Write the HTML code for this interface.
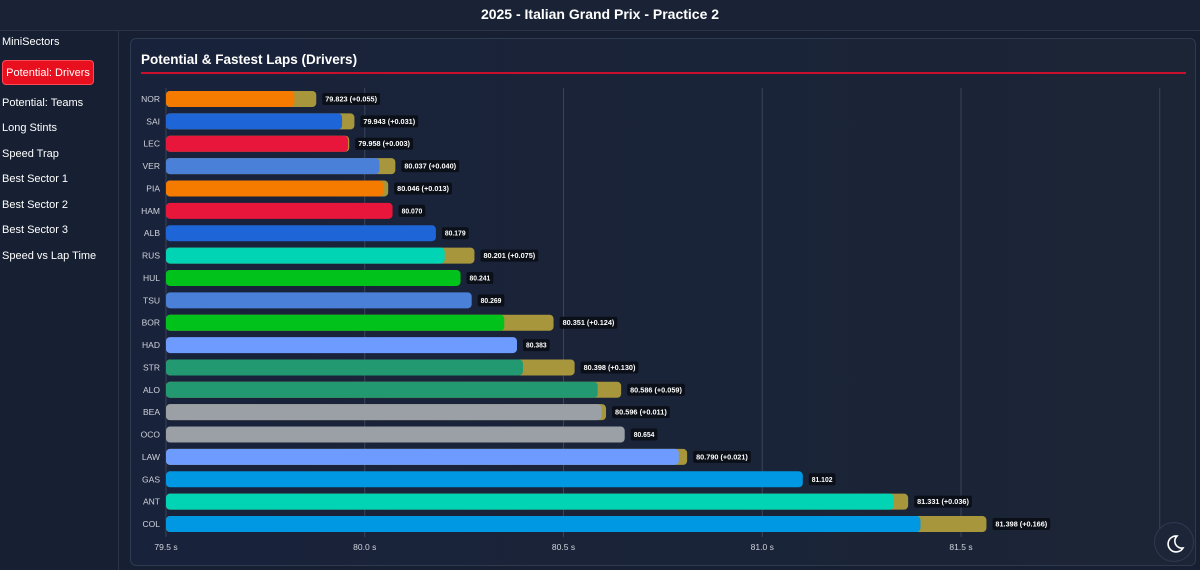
<!DOCTYPE html>
<html><head><meta charset="utf-8"><style>
body{margin:0;width:1200px;height:570px;background:#172032;font-family:"Liberation Sans",sans-serif;color:#fff;overflow:hidden;position:relative}
.hdr{position:absolute;left:0;top:0;width:1200px;height:30px;border-bottom:1px solid #2a3448;text-align:center;line-height:29px;font-weight:bold;font-size:14px;background:#1a2335}
.side{position:absolute;left:0;top:31px;width:118px;height:539px;border-right:1px solid #2a3448;background:#172032}
.side div{position:absolute;left:2px;font-size:11px;color:#fff}
.side .act{left:2px;width:92px;height:25px;background:#e8101e;border-radius:4px;text-align:center;line-height:25px;border:1px solid #ff4a55;box-sizing:border-box}
.panel{position:absolute;left:130px;top:38px;width:1066px;height:528px;border:1px solid #2d3a50;border-radius:6px;box-sizing:border-box;background:linear-gradient(90deg,#18223a,#1c2536)}
.moon{position:absolute;left:1154px;top:522px;width:40px;height:40px;border-radius:50%;background:#1d2638;border:1px solid #2d3a50;box-sizing:border-box}
</style></head><body>
<div class="hdr">2025 - Italian Grand Prix - Practice 2</div>
<div class="side">
<div style="top:5px">MiniSectors</div>
<div class="act" style="top:29px">Potential: Drivers</div>
<div style="top:66px">Potential: Teams</div>
<div style="top:91px">Long Stints</div>
<div style="top:117px">Speed Trap</div>
<div style="top:142px">Best Sector 1</div>
<div style="top:168px">Best Sector 2</div>
<div style="top:193px">Best Sector 3</div>
<div style="top:219px">Speed vs Lap Time</div>
</div>
<div class="panel"></div>
<svg id="c" width="1200" height="570" style="position:absolute;left:0;top:0">
<text x="141" y="64" font-size="13.5" font-weight="bold" fill="#fff">Potential &amp; Fastest Laps (Drivers)</text>
<rect x="141" y="72" width="1045" height="2" fill="#c8102e"/>
</svg>
<div class="moon"><svg width="40" height="40"><path d="M22 13a8 8 0 1 0 6 12a7 7 0 0 1-6-12z" fill="none" stroke="#fff" stroke-width="1.6"/></svg></div>
<script>
const drivers=["NOR","SAI","LEC","VER","PIA","HAM","ALB","RUS","HUL","TSU","BOR","HAD","STR","ALO","BEA","OCO","LAW","GAS","ANT","COL"];
const potential=[79.823,79.943,79.958,80.037,80.046,80.070,80.179,80.201,80.241,80.269,80.351,80.383,80.398,80.586,80.596,80.654,80.790,81.102,81.331,81.398];
const delta=[0.055,0.031,0.003,0.040,0.013,0,0,0.075,0,0,0.124,0,0.130,0.059,0.011,0,0.021,0,0.036,0.166];
const colors=["#f47a00","#1e66d8","#e8163a","#4a80d8","#f47a00","#e8163a","#1e66d8","#00d4b4","#00c21a","#4a80d8","#00c21a","#6e9bff","#229971","#229971","#9aa0a6","#9aa0a6","#6e9bff","#0098e2","#00d4b4","#0098e2"];
const ticks=[79.5,80.0,80.5,81.0,81.5,82.0];
const tickLabels=["79.5 s","80.0 s","80.5 s","81.0 s","81.5 s","82"];
const svg=document.getElementById('c');const NS="http://www.w3.org/2000/svg";
const x=v=>166+(v-79.5)*397.5;
const y=i=>99+i*22.37;
function mk(t,a){const e=document.createElementNS(NS,t);for(const k in a)e.setAttribute(k,a[k]);svg.appendChild(e);return e;}
ticks.forEach((t,i)=>{
 if(i>0){const g=mk('line',{x1:x(t),x2:x(t),y1:88,y2:537,stroke:'#39445a','stroke-width':1});
 
 }
 const l=mk('text',{x:x(t),y:550,'font-size':8.5,fill:'#d0d4dc','text-anchor':'middle'});l.textContent=tickLabels[i];
 
 
});
mk('line',{x1:166,x2:166,y1:88,y2:537,stroke:'#39445a'});
drivers.forEach((d,i)=>{
 const cy=y(i);
 const lb=mk('text',{x:160,y:cy+3,'font-size':8.5,fill:'#d0d4dc','text-anchor':'end'});lb.textContent=d;
 
 
 const fx=x(potential[i]+delta[i]);
 if(delta[i]>0){const g=mk('rect',{x:166,y:cy-8,width:fx-166,height:16,rx:4,fill:'#a8963c'});
 
 }
 const b=mk('rect',{x:166,y:cy-8,width:x(potential[i])-166,height:16,rx:4,fill:colors[i]});
 
 
 const txt=potential[i].toFixed(3)+(delta[i]>0?' (+'+delta[i].toFixed(3)+')':'');
 const tw=txt.length*3.45+6;
 const bg=mk('rect',{x:fx+6,y:cy-6,width:tw,height:12,rx:2,fill:'#0b0f18'});
 
 
 const t=mk('text',{x:fx+9,y:cy+2.5,'font-size':7,'font-weight':'bold',fill:'#fff',textLength:tw-6,lengthAdjust:'spacingAndGlyphs'});t.textContent=txt;
 
 
});
</script>
</body></html>
